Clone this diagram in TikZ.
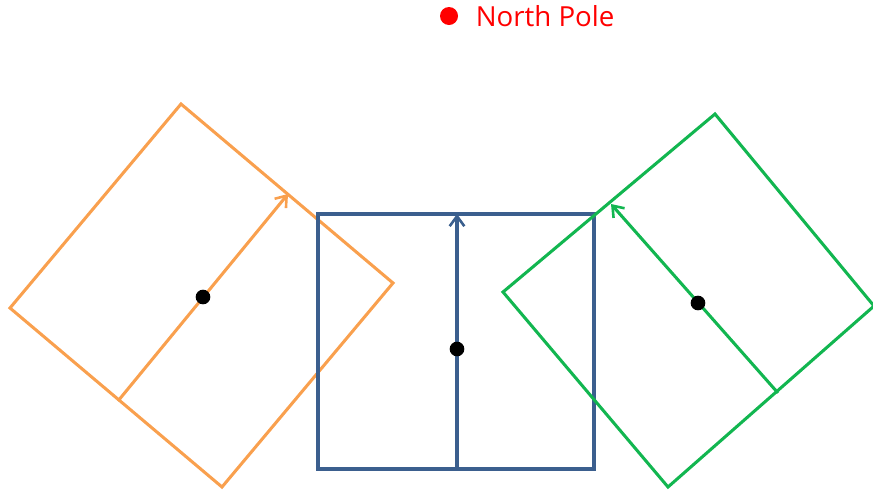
\documentclass[tikz,border=0pt]{standalone}
\usepackage{fontspec}
\setmainfont{Open Sans}
\usepackage{xcolor}
\usetikzlibrary{positioning,arrows.meta,calc}
\definecolor{obrown}{HTML}{F9A04E}
\definecolor{oblue}{HTML}{3B5F8E}
\definecolor{ogreen}{HTML}{12B650}

\begin{document}
\begin{tikzpicture}[
    x=0.03cm, y=-0.03cm,
    frame/.style={line width=2.6pt, line join=miter},
    axis/.style={line width=2.6pt, -{Straight Barb[length=3mm, width=4.4mm, line width=2.2pt]}},
    pivot/.style={circle, fill=black, inner sep=0pt, minimum size=4.4mm},
    pole/.style={circle, fill=red, inner sep=0pt, minimum size=5.4mm},
  ]
    \useasboundingbox (0,0) rectangle (873,493);

    % north pole marker
    \node[pole] (np) at (449,16) {};
    \node[right=5.2mm of np, text=red, font=\fontsize{23.6}{26}\selectfont, inner sep=0pt] (nplabel) {North Pole};

    % tilted left (orange)
    \coordinate (lt) at (181,104);
    \coordinate (lr) at (393,283);
    \coordinate (lb) at (222,487);
    \coordinate (ll) at (10,308);
    \coordinate (ltail) at (118,401);
    \coordinate (lhead) at (288,194);
    \draw[frame, obrown] (lt) -- (lr) -- (lb) -- (ll) -- cycle;
    \draw[axis, obrown] (ltail) -- (lhead);
    \node[pivot] (lc) at (203,297) {};

    % upright middle (blue)
    \coordinate (mtl) at (318,214);
    \coordinate (mbr) at (594,469);
    \coordinate (mtail) at (457,469);
    \coordinate (mhead) at (457,214);
    \draw[frame, oblue] (mtl) rectangle (mbr);
    \draw[axis, oblue] (mtail) -- (mhead);
    \node[pivot] (mc) at (457,349) {};

    % tilted right (green)
    \coordinate (rt) at (715,114);
    \coordinate (rr) at (874,306);
    \coordinate (rb) at (668,487);
    \coordinate (rl) at (503,292);
    \coordinate (rtail) at (778,393);
    \coordinate (rhead) at (611,204);
    \draw[frame, ogreen] (rt) -- (rr) -- (rb) -- (rl) -- cycle;
    \draw[axis, ogreen] (rtail) -- (rhead);
    \node[pivot] (rc) at (698,303) {};
  \end{tikzpicture}
\end{document}
